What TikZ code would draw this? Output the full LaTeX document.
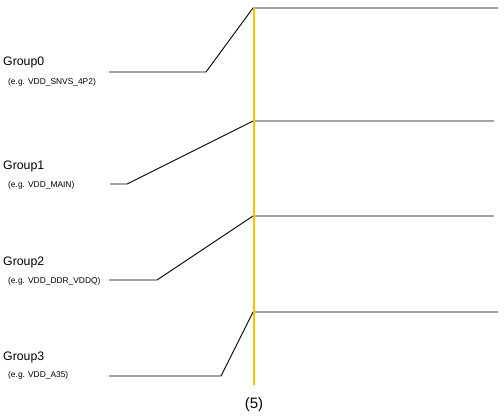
\documentclass[tikz,border=0pt]{standalone}
\usepackage{fontspec}
\setmainfont{Liberation Sans}
\usepackage{xcolor}
\usetikzlibrary{positioning}
\definecolor{railyellow}{HTML}{FFC000}

\begin{document}
\begin{tikzpicture}[x=1pt, y=-1pt,
  grp/.style={anchor=west, inner sep=0pt, font=\fontsize{12.3}{14}\selectfont},
  eg/.style={anchor=west, inner sep=0pt, font=\fontsize{8.4}{10}\selectfont},
  wire/.style={draw=black, line width=0.9pt},
  rail/.style={draw=railyellow, line width=2.8pt}
]
\useasboundingbox (0,0) rectangle (504,418);

% group labels
\node[grp] (g0) at (3,62) {Group0};
\node[eg]  (e0) at (8,82) {(e.g. VDD\_SNVS\_4P2)};
\node[grp] (g1) at (3,166) {Group1};
\node[eg]  (e1) at (8,185) {(e.g. VDD\_MAIN)};
\node[grp] (g2) at (3,262) {Group2};
\node[eg]  (e2) at (8,281) {(e.g. VDD\_DDR\_VDDQ)};
\node[grp] (g3) at (3,357) {Group3};
\node[eg]  (e3) at (8,375) {(e.g. VDD\_A35)};

% ramp points: start, knee, top, end
\coordinate (s0) at (109,72);  \coordinate (k0) at (206,72);
\coordinate (t0) at (253,8);   \coordinate (f0) at (498,8);
\coordinate (s1) at (110,184); \coordinate (k1) at (127,184);
\coordinate (t1) at (253,121); \coordinate (f1) at (494,121);
\coordinate (s2) at (109,280); \coordinate (k2) at (157,280);
\coordinate (t2) at (253,216); \coordinate (f2) at (494,216);
\coordinate (s3) at (109,376); \coordinate (k3) at (221,376);
\coordinate (t3) at (253,312); \coordinate (f3) at (498,312);

\foreach \i in {0,1,2,3}
  \draw[wire] (s\i) -- (k\i) -- (t\i) -- (f\i);

% rail
\coordinate (rtop) at (254,8);
\coordinate (rbot) at (254,385);
\draw[rail] (rtop) -- (rbot);
\node[font=\fontsize{15}{17}\selectfont, below=9pt of rbot] (step5) {(5)};
\end{tikzpicture}
\end{document}
